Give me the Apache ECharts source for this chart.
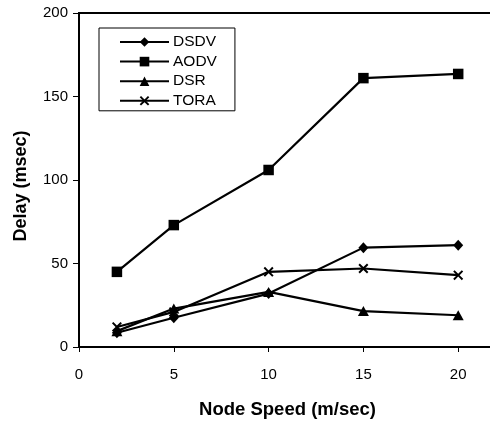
<!DOCTYPE html>
<html>
<head>
<meta charset="utf-8">
<script src="https://cdn.jsdelivr.net/npm/echarts@6/dist/echarts.min.js"></script>
<style>
html,body{margin:0;padding:0;background:#fff;overflow:hidden;width:490px;height:423px;}
#chart{width:600px;height:423px;}
</style>
</head>
<body>
<div id="chart"></div>
<script>
var speeds = [2, 5, 10, 15, 20];
var seriesNames = ['DSDV', 'AODV', 'DSR', 'TORA'];
var dsdv = [8.5, 17.5, 32, 59.5, 61];
var aodv = [45, 73, 106, 161, 163.5];
var dsr = [9.5, 23, 33, 21.5, 19];
var tora = [12, 21, 45, 47, 43];
var xTicks = [0, 5, 10, 15, 20, 25];
var yTicks = [0, 50, 100, 150, 200];

var FONT = 'Liberation Sans, Arial, sans-serif';
var xMark = 'path://M0,1.4L1.4,0L5,3.6L8.6,0L10,1.4L6.4,5L10,8.6L8.6,10L5,6.4L1.4,10L0,8.6L3.6,5Z';

function pairs(vals) { return speeds.map(function (s, i) { return [s, vals[i]]; }); }

var symbols = ['diamond', 'rect', 'triangle', xMark];
var sizes = [[10, 11], 10.5, [11, 10], 10];
var allVals = [dsdv, aodv, dsr, tora];

var chart = echarts.init(document.getElementById('chart'), null, {renderer: 'canvas'});
chart.setOption({
  animation: false,
  backgroundColor: '#fff',
  grid: {left: 79, top: 13, bottom: 76, right: 47, show: true, borderColor: '#000', borderWidth: 2},
  legend: {
    orient: 'vertical', left: 99, top: 28,
    padding: [6, 18, 2, 20],
    itemWidth: 49, itemHeight: 12, itemGap: 3.6,
    borderColor: '#000', borderWidth: 1,
    textStyle: {color: '#000', fontSize: 15.5, fontFamily: FONT, padding: [0, 0, 0, -1]},
    data: seriesNames
  },
  xAxis: {
    type: 'value', min: xTicks[0], max: xTicks[xTicks.length - 1], interval: 5,
    axisLine: {lineStyle: {color: '#000', width: 2}},
    axisTick: {show: true, length: 5, lineStyle: {color: '#000', width: 1}},
    axisLabel: {color: '#000', fontSize: 15, fontFamily: FONT, margin: 20},
    splitLine: {show: false}
  },
  yAxis: {
    type: 'value', min: yTicks[0], max: yTicks[yTicks.length - 1], interval: 50,
    axisLine: {show: true, lineStyle: {color: '#000', width: 2}},
    axisTick: {show: true, length: 6, lineStyle: {color: '#000', width: 1}},
    axisLabel: {color: '#000', fontSize: 15, fontFamily: FONT, margin: 11},
    splitLine: {show: false}
  },
  graphic: [
    {type: 'text', x: 287.5, y: 410, style: {text: 'Node Speed (m/sec)', fill: '#000', font: 'bold 18.5px ' + FONT, textAlign: 'center', textVerticalAlign: 'middle'}},
    {type: 'text', x: 21, y: 186, rotation: Math.PI / 2, style: {text: 'Delay (msec)', fill: '#000', font: 'bold 18px ' + FONT, textAlign: 'center', textVerticalAlign: 'middle'}}
  ],
  series: seriesNames.map(function (n, i) {
    return {
      name: n, type: 'line', data: pairs(allVals[i]),
      symbol: symbols[i], symbolSize: sizes[i],
      lineStyle: {color: '#000', width: 2.2},
      itemStyle: {color: '#000', borderColor: '#000', borderWidth: 0},
      z: 3
    };
  })
});
</script>
</body>
</html>
